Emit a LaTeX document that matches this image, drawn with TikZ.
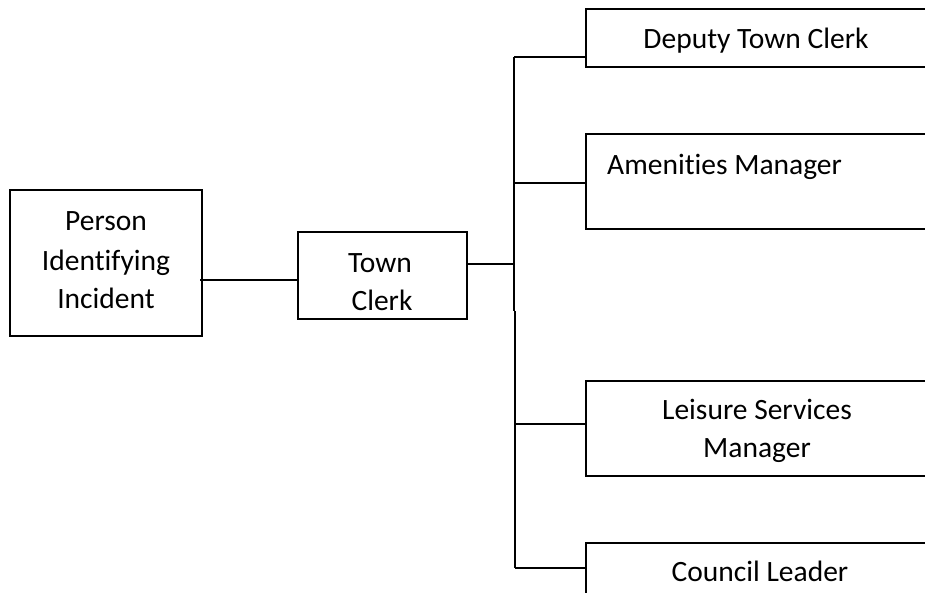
\documentclass[tikz,border=0pt]{standalone}
\usepackage{fontspec}
\setmainfont{Carlito}[Ligatures=NoCommon]
\begin{document}
\begin{tikzpicture}[x=1pt,y=-1pt,
  box/.style={draw, line width=1.3pt, rectangle, inner sep=0pt},
  lbl/.style={anchor=base, inner sep=0pt, font=\fontsize{29.5}{40}\selectfont},
  conn/.style={line width=1.3pt}]
\useasboundingbox (0,0) rectangle (925,592);
\clip (0,0) rectangle (925,592);
\fill[white] (0,0) rectangle (925,592);
% boxes
\node[box, minimum width=192pt, minimum height=146pt] (person) at (106,263) {};
\node[box, minimum width=169pt, minimum height=87pt] (tc) at (382.5,275.5) {};
\node[box, minimum width=344pt, minimum height=58pt] (dep) at (758,38) {};
\node[box, minimum width=344pt, minimum height=95pt] (amen) at (758,181.5) {};
\node[box, minimum width=344pt, minimum height=95pt] (leis) at (758,428.5) {};
\node[box, minimum width=344pt, minimum height=57pt] (coun) at (758,571.5) {};
% labels
\node[lbl] (t1) at (106,230) {Person};
\node[lbl] (t2) at (106,270) {Identifying};
\node[lbl] (t3) at (106,308) {Incident};
\node[lbl] (t4) at (380,272) {Town};
\node[lbl] (t5) at (382,310) {Clerk};
\node[lbl] (t6) at (756,48) {Deputy Town Clerk};
\node[lbl, anchor=base west] (t7) at (607,174) {Amenities Manager};
\node[lbl] (t8) at (757,419) {Leisure Services};
\node[lbl] (t9) at (757,457) {Manager};
\node[lbl] (t10) at (760,581) {Council Leader};
% coordinates
\coordinate (pc) at (200,280);
\coordinate (b0) at (514,264);
\coordinate (j1) at (514,57);
\coordinate (jm) at (514,311);
\coordinate (jm2) at (515,311);
\coordinate (j2) at (514,183);
\coordinate (j3) at (515,424);
\coordinate (j4) at (515,568);
% connectors
\draw[conn] (pc) -- (tc.west |- pc);
\draw[conn] (tc.east |- b0) -- (b0);
\draw[conn] (j1) -- (jm);
\draw[conn] (jm2) -- (j4);
\draw[line width=2.6pt] (515,425) -- (515,452);
\draw[conn] (j1) -- (dep.west |- j1);
\draw[conn] (j2) -- (amen.west |- j2);
\draw[conn] (j3) -- (leis.west |- j3);
\draw[conn] (j4) -- (coun.west |- j4);
\end{tikzpicture}
\end{document}
